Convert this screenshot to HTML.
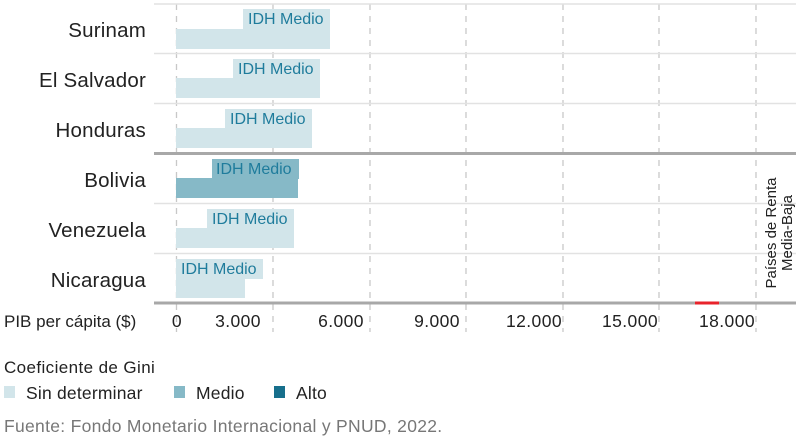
<!DOCTYPE html>
<html><head><meta charset="utf-8"><style>
html,body{margin:0;padding:0;background:#fff;}
svg{display:block;font-family:"Liberation Sans",sans-serif;}
</style></head><body>
<svg width="806" height="440" viewBox="0 0 806 440">
<g stroke="#c8c8c8" stroke-width="1.3" stroke-dasharray="6,6">
<line x1="176.5" y1="4" x2="176.5" y2="332"/>
<line x1="273" y1="4" x2="273" y2="332"/>
<line x1="370" y1="4" x2="370" y2="332"/>
<line x1="466" y1="4" x2="466" y2="332"/>
<line x1="563" y1="4" x2="563" y2="332"/>
<line x1="659" y1="4" x2="659" y2="332"/>
<line x1="756" y1="4" x2="756" y2="332"/>
</g>
<g stroke="#e2e2e2" stroke-width="1.5">
<line x1="154" y1="4" x2="796" y2="4"/>
<line x1="154" y1="53.5" x2="796" y2="53.5"/>
<line x1="154" y1="103.5" x2="796" y2="103.5"/>
<line x1="154" y1="203.5" x2="796" y2="203.5"/>
<line x1="154" y1="253.5" x2="796" y2="253.5"/>
</g>
<g stroke="#a8a8a8" stroke-width="3">
<line x1="154" y1="153.5" x2="796" y2="153.5"/>
<line x1="154" y1="303" x2="796" y2="303"/>
</g>
<line x1="695" y1="303" x2="719" y2="303" stroke="#e8232b" stroke-width="3"/>
<g fill="#d2e5ea">
<rect x="243" y="9" width="87" height="20"/><rect x="176" y="29" width="154" height="20"/>
<rect x="233" y="59" width="87" height="20"/><rect x="176" y="78" width="144" height="20"/>
<rect x="225" y="109" width="87" height="20"/><rect x="176" y="128" width="136" height="20"/>
<rect x="207" y="209" width="87" height="20"/><rect x="176" y="228" width="118" height="20"/>
<rect x="176" y="259" width="87" height="20"/><rect x="176" y="278" width="69" height="20"/>
</g>
<g fill="#86b9c7">
<rect x="212" y="159" width="87" height="20"/><rect x="176" y="178" width="122" height="20"/>
</g>
<g fill="#1f7c9c" font-size="16">
<text x="248" y="24">IDH Medio</text>
<text x="238" y="74">IDH Medio</text>
<text x="230" y="124">IDH Medio</text>
<text x="216" y="174">IDH Medio</text>
<text x="212" y="224">IDH Medio</text>
<text x="181" y="274">IDH Medio</text>
</g>
<g fill="#222" font-size="20.5" text-anchor="end" letter-spacing="0.2">
<text x="146" y="37">Surinam</text>
<text x="146" y="87">El Salvador</text>
<text x="146" y="137">Honduras</text>
<text x="146" y="187">Bolivia</text>
<text x="146" y="237">Venezuela</text>
<text x="146" y="287">Nicaragua</text>
</g>
<text x="4" y="327" font-size="17" fill="#222">PIB per cápita ($)</text>
<g fill="#222" font-size="17.5" text-anchor="middle" letter-spacing="0.4">
<text x="177" y="327">0</text>
<text x="238" y="327">3.000</text>
<text x="341" y="327">6.000</text>
<text x="437" y="327">9.000</text>
<text x="534" y="327">12.000</text>
<text x="630" y="327">15.000</text>
<text x="727" y="327">18.000</text>
</g>
<text transform="translate(776,233) rotate(-90)" font-size="15" fill="#222" text-anchor="middle"><tspan x="0" y="0">Países de Renta</tspan><tspan x="0" y="16">Media-Baja</tspan></text>
<text x="4" y="373" font-size="17" letter-spacing="0.4" fill="#222">Coeficiente de Gini</text>
<rect x="4" y="386" width="11" height="12" fill="#d2e5ea"/>
<text x="26" y="399" font-size="17.5" letter-spacing="0.2" fill="#222">Sin determinar</text>
<rect x="174" y="386" width="11" height="12" fill="#86b9c7"/>
<text x="196" y="399" font-size="17.5" letter-spacing="0.2" fill="#222">Medio</text>
<rect x="274" y="386" width="11" height="12" fill="#176f8c"/>
<text x="296" y="399" font-size="17.5" letter-spacing="0.2" fill="#222">Alto</text>
<text x="4" y="432" font-size="17.5" letter-spacing="0.3" fill="#777">Fuente: Fondo Monetario Internacional y PNUD, 2022.</text>
</svg>
</body></html>
